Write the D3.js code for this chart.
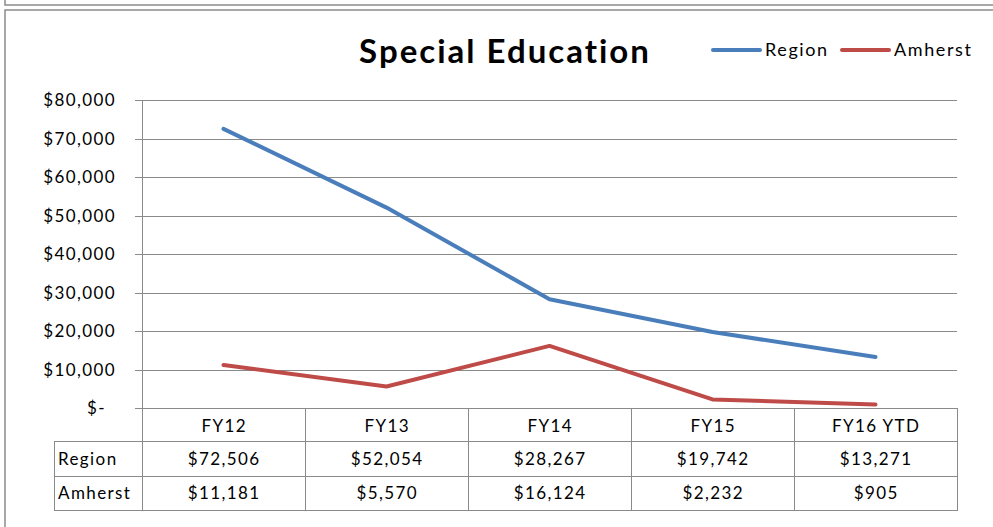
<!DOCTYPE html>
<html>
<head>
<meta charset="utf-8">
<script src="https://cdn.jsdelivr.net/npm/d3@7"></script>
<style>
  body { margin: 0; background: #fff; }
  svg text { font-family: Lato, "Open Sans", sans-serif; fill: #000; }
  .small { font-size: 17px; letter-spacing: 1.4px; }
</style>
</head>
<body>
<div id="chart"></div>
<script>
// data
var categories = ["FY12", "FY13", "FY14", "FY15", "FY16 YTD"];
var regionValues = [72506, 52054, 28267, 19742, 13271];
var amherstValues = [11181, 5570, 16124, 2232, 905];
var seriesNames = ["Region", "Amherst"];
var seriesColors = ["#4a7ebb", "#be4b48"];
var yTicks = [0, 10000, 20000, 30000, 40000, 50000, 60000, 70000, 80000];

var width = 993, height = 527;
var gridColor = "#8a8a8a";

var svg = d3.select("#chart").append("svg")
    .attr("width", width)
    .attr("height", height);

// frame (bottom of the box above, and this chart's box)
svg.append("path")
    .attr("d", "M5,0V5H993")
    .attr("fill", "none")
    .attr("stroke", "#8c8c8c")
    .attr("stroke-width", 1.5);
svg.append("path")
    .attr("d", "M993,10H5V527")
    .attr("fill", "none")
    .attr("stroke", "#8c8c8c")
    .attr("stroke-width", 1.5);

var plot = {left: 142, right: 957, top: 100, bottom: 408};
var rowH = [408, 441, 476, 510];
var tableLeft = 54;

var x = d3.scaleBand()
    .domain(categories)
    .range([plot.left, plot.right])
    .padding(0);

var y = d3.scaleLinear()
    .domain([0, 80000])
    .range([plot.bottom, plot.top]);

var fmt = d3.format("$,");

// gridlines + tick marks
var grid = svg.append("g");
grid.selectAll("line.grid")
    .data(yTicks)
    .enter().append("line")
    .attr("class", "grid")
    .attr("x1", plot.left - 7)
    .attr("x2", plot.right)
    .attr("y1", function(d) { return Math.round(y(d)) + 0.5; })
    .attr("y2", function(d) { return Math.round(y(d)) + 0.5; })
    .attr("stroke", gridColor)
    .attr("stroke-width", 1);

grid.selectAll("text")
    .data(yTicks)
    .enter().append("text")
    .attr("class", "small")
    .attr("x", function(d) { return d === 0 ? 106 : 116; })
    .attr("y", function(d) { return y(d) + 6; })
    .attr("text-anchor", "end")
    .text(function(d) { return d === 0 ? "$-" : fmt(d); });

// y axis line, continues down as table border
svg.append("line")
    .attr("x1", plot.left + 0.5).attr("x2", plot.left + 0.5)
    .attr("y1", plot.top).attr("y2", rowH[3])
    .attr("stroke", gridColor);

// table borders
var bounds = categories.map(function(c) { return x(c); }).concat([plot.right]);
svg.append("g").selectAll("line")
    .data(bounds.slice(1))
    .enter().append("line")
    .attr("x1", function(d) { return Math.round(d) + 0.5; })
    .attr("x2", function(d) { return Math.round(d) + 0.5; })
    .attr("y1", rowH[0]).attr("y2", rowH[3])
    .attr("stroke", gridColor);

svg.append("g").selectAll("line")
    .data(rowH.slice(1))
    .enter().append("line")
    .attr("x1", tableLeft).attr("x2", plot.right + 1)
    .attr("y1", function(d) { return d + 0.5; })
    .attr("y2", function(d) { return d + 0.5; })
    .attr("stroke", gridColor);

svg.append("line")
    .attr("x1", tableLeft + 0.5).attr("x2", tableLeft + 0.5)
    .attr("y1", rowH[1]).attr("y2", rowH[3])
    .attr("stroke", gridColor);

// header row
svg.append("g").selectAll("text")
    .data(categories)
    .enter().append("text")
    .attr("class", "small")
    .attr("x", function(d) { return x(d) + x.bandwidth() / 2 + 0.7; })
    .attr("y", 432)
    .attr("text-anchor", "middle")
    .text(function(d) { return d; });

// value rows
var rows = [regionValues, amherstValues];
rows.forEach(function(vals, r) {
    var rowY = (rowH[r + 1] + rowH[r + 2]) / 2 + 6;
    svg.append("text")
        .attr("class", "small")
        .attr("x", tableLeft + 4)
        .attr("y", rowY)
        .text(seriesNames[r]);
    svg.append("g").selectAll("text")
        .data(vals)
        .enter().append("text")
        .attr("class", "small")
        .attr("x", function(d, i) { return x(categories[i]) + x.bandwidth() / 2 + 0.7; })
        .attr("y", rowY)
        .attr("text-anchor", "middle")
        .text(function(d) { return fmt(d); });
});

// lines
var line = d3.line()
    .x(function(d, i) { return x(categories[i]) + x.bandwidth() / 2; })
    .y(function(d) { return y(d); });

rows.forEach(function(vals, r) {
    svg.append("path")
        .datum(vals)
        .attr("d", line)
        .attr("fill", "none")
        .attr("stroke", seriesColors[r])
        .attr("stroke-width", 4)
        .attr("stroke-linecap", "round")
        .attr("stroke-linejoin", "round");
});

// title
svg.append("text")
    .attr("x", 505)
    .attr("y", 63)
    .attr("text-anchor", "middle")
    .style("font-size", "33px")
    .style("font-weight", "bold")
    .style("letter-spacing", "2px")
    .text("Special Education");

// legend
var legendX = [713, 842];
seriesNames.forEach(function(name, i) {
    var g = svg.append("g").attr("transform", "translate(" + legendX[i] + ",50)");
    g.append("line")
        .attr("x1", 0).attr("x2", 47)
        .attr("stroke", seriesColors[i])
        .attr("stroke-width", 4)
        .attr("stroke-linecap", "round");
    g.append("text")
        .attr("x", 52)
        .attr("y", 6)
        .style("font-size", "18px")
        .style("letter-spacing", "1.6px")
        .text(name);
});
</script>
</body>
</html>
